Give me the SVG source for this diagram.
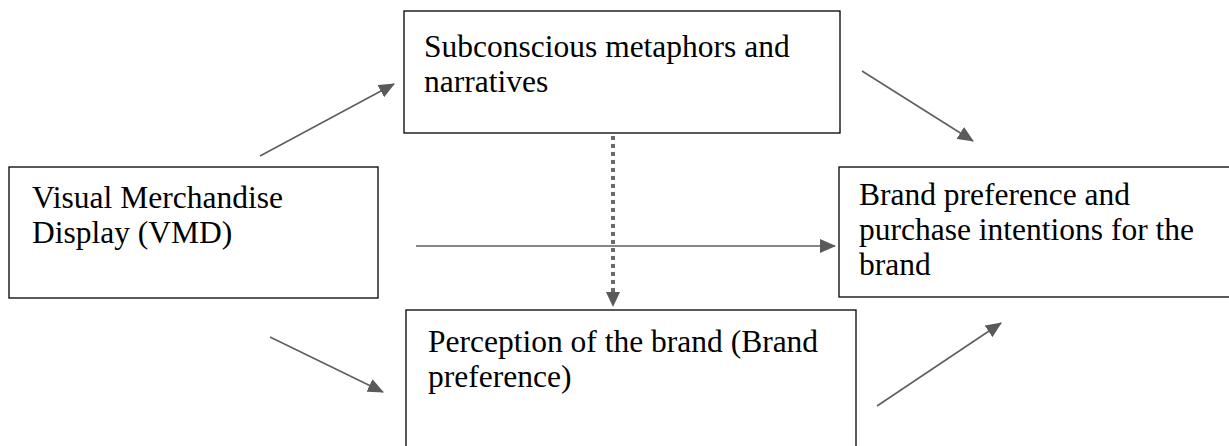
<svg xmlns="http://www.w3.org/2000/svg" width="1229" height="446" viewBox="0 0 1229 446">
<style>
.box{fill:#fff;stroke:#000;stroke-width:1.3}
.t{font-family:"Liberation Serif","Times New Roman",serif;font-size:31.5px;fill:#000}
.c{stroke:#5f5f5f;stroke-width:1.6;fill:none}
.d{stroke:#6a6a6a;stroke-width:4;fill:none;stroke-dasharray:4 4}
</style>
<defs>
<marker id="ah" markerWidth="16" markerHeight="14" refX="15" refY="7" orient="auto" markerUnits="userSpaceOnUse">
<path d="M0,0 L16,7 L0,14 Z" fill="#5a5a5a"/>
</marker>
</defs>
<rect width="1229" height="446" fill="#fff"/>
<g id="n-sub">
<rect class="box" x="404" y="11" width="436" height="122"/>
<text class="t" x="424" y="57">Subconscious metaphors and</text>
<text class="t" x="424" y="92">narratives</text>
</g>
<g id="n-vmd">
<rect class="box" x="9" y="167" width="369" height="131"/>
<text class="t" x="32" y="208">Visual Merchandise</text>
<text class="t" x="32" y="243">Display (VMD)</text>
</g>
<g id="n-brand">
<rect class="box" x="839" y="167" width="395" height="130"/>
<text class="t" x="859" y="205">Brand preference and</text>
<text class="t" x="859" y="240">purchase intentions for the</text>
<text class="t" x="859" y="275">brand</text>
</g>
<g id="n-perc">
<rect class="box" x="406" y="310" width="450" height="150"/>
<text class="t" x="428" y="352">Perception of the brand (Brand</text>
<text class="t" x="428" y="387">preference)</text>
</g>
<g id="connectors">
<line class="c" x1="260" y1="156" x2="394" y2="84" marker-end="url(#ah)"/>
<line class="c" x1="862" y1="71" x2="973" y2="141" marker-end="url(#ah)"/>
<line class="c" x1="416" y1="246" x2="835" y2="246" marker-end="url(#ah)"/>
<line class="c" x1="270" y1="337" x2="383" y2="392" marker-end="url(#ah)"/>
<line class="c" x1="877" y1="406" x2="1001" y2="323" marker-end="url(#ah)"/>
<line class="d" x1="613" y1="136" x2="613" y2="292"/>
<path d="M606,292 L620,292 L613,307 Z" fill="#5a5a5a"/>
</g>
</svg>
